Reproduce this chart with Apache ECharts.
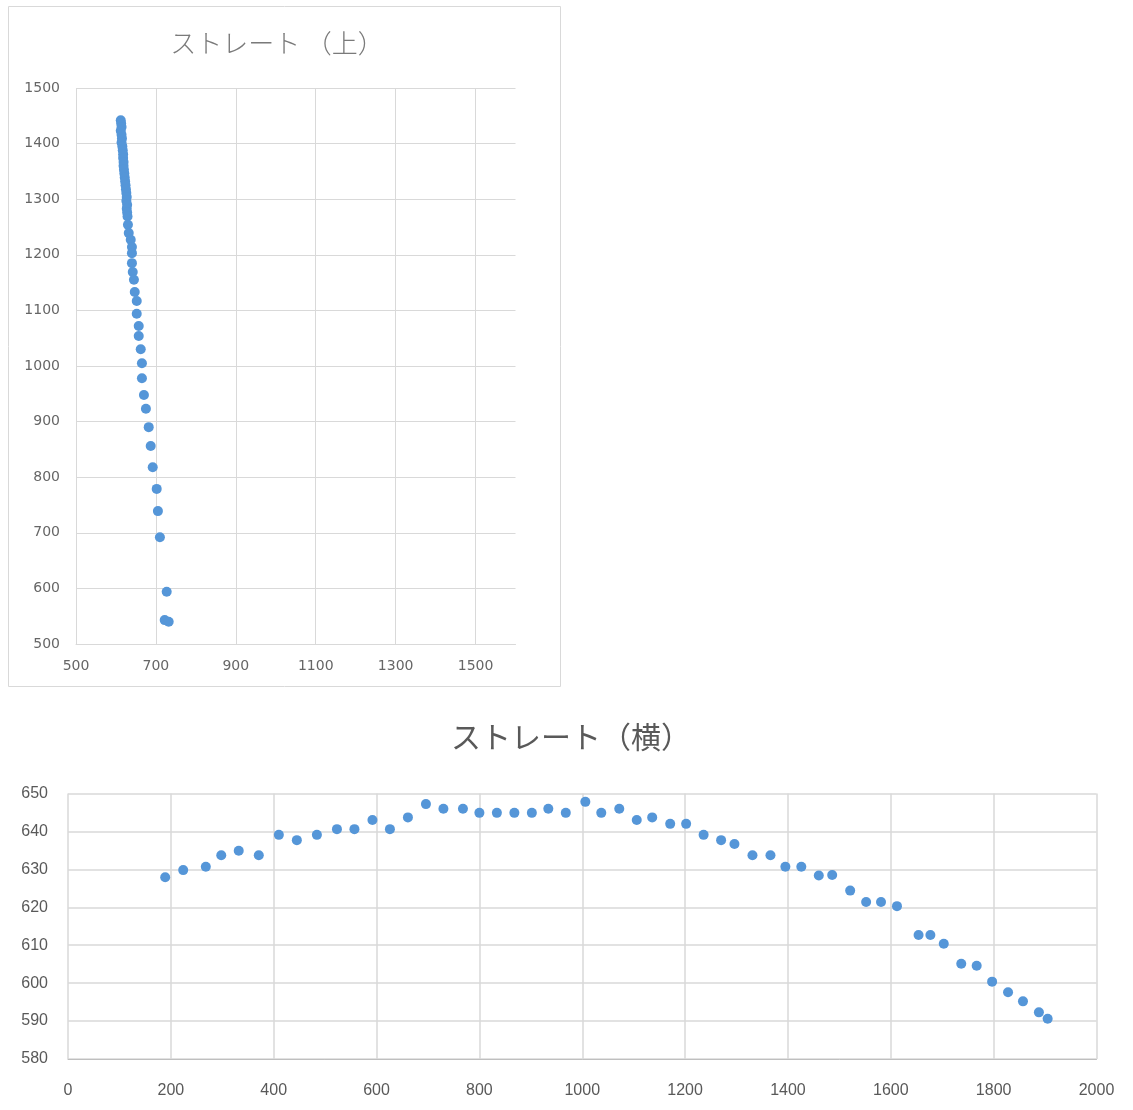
<!DOCTYPE html>
<html>
<head>
<meta charset="utf-8">
<script src="https://cdn.jsdelivr.net/npm/echarts@6/dist/echarts.min.js"></script>
<style>html,body{margin:0;padding:0;background:#fff}#c{width:1133px;height:1110px}</style>
</head>
<body>
<div id="c"></div>
<script>
// ストレート（上）
var topX = [612,613,614,612,614,615,614,616,617,618,618,619,619,620,621,622,623,624,625,626,627,626,628,627,628,629,
            630,632,637,640,640,640,642,645,647,652,652,657,657,662,665,665,670,675,682,687,692,702,705,710,727,722,732];
var topY = [1442,1436,1430,1423,1416,1409,1402,1395,1388,1381,1374,1367,1360,1353,1346,1339,1332,1325,1318,1311,1304,1297,1290,1283,1276,1269,
            1254,1239,1227,1214,1203,1185,1169,1155,1133,1117,1094,1072,1054,1030,1005,978,948,923,890,856,818,779,739,692,594,543,540];
var topXTicks = [500,700,900,1100,1300,1500];

// ストレート（横）
var sideX = [189,224,268,298,332,371,410,445,484,523,557,592,626,661,696,730,768,800,834,868,902,934,968,1006,1037,1072,1106,1136,1171,1202,1236,1270,1296,1331,1366,1395,1426,1460,1486,1521,1552,1581,1612,1654,1677,1703,1737,1767,1797,1828,1857,1888,1905];
var sideY = [627.9,629.8,630.7,633.7,634.9,633.7,639.1,637.7,639.1,640.6,640.6,643.0,640.6,643.7,647.2,646.0,646.0,644.9,644.9,644.9,644.9,646.0,644.9,647.8,644.9,646.0,643.0,643.7,642.0,642.0,639.1,637.7,636.7,633.7,633.7,630.7,630.7,628.4,628.5,624.4,621.4,621.4,620.3,612.7,612.7,610.4,605.1,604.6,600.4,597.6,595.2,592.3,590.6];

function zip(a, b) { return a.map(function (v, i) { return [v, b[i]]; }); }
function plain(v) { return String(v); }

var dotColor = '#5596d8';
var gridColor = '#d9d9d9';
var textColor = '#595959';

var chart = echarts.init(document.getElementById('c'), null, {renderer: 'canvas'});
chart.setOption({
  animation: false,
  title: [
    {text: 'ストレート （上）', left: 272, top: 25, textAlign: 'center',
     textStyle: {fontFamily: 'Noto Sans CJK JP', fontSize: 26, fontWeight: 300, color: '#7a7a7a'}},
    {text: 'ストレート（横）', left: 566, top: 717, textAlign: 'center',
     textStyle: {fontFamily: 'Noto Sans CJK JP', fontSize: 30, fontWeight: 'normal', color: textColor}}
  ],
  graphic: [{
    type: 'rect', shape: {x: 8.5, y: 6.5, width: 552, height: 680},
    style: {fill: 'none', stroke: gridColor, lineWidth: 1}, silent: true
  }],
  grid: [
    {left: 76, top: 88, width: 439.5, height: 556},
    {left: 68, top: 793.5, width: 1028.5, height: 265.5}
  ],
  xAxis: [
    {type: 'value', gridIndex: 0, min: 500, max: 1600,
     axisLine: {show: true, lineStyle: {color: gridColor}},
     axisTick: {show: false, customValues: topXTicks},
     axisLabel: {customValues: topXTicks, formatter: plain, color: '#666', fontFamily: 'DejaVu Sans', fontSize: 14, margin: 15},
     splitLine: {show: true, lineStyle: {color: gridColor, width: 1}}},
    {type: 'value', gridIndex: 1, min: 0, max: 2000, interval: 200,
     axisLine: {show: true, lineStyle: {color: '#bfbfbf'}},
     axisTick: {show: false},
     axisLabel: {formatter: plain, color: textColor, fontFamily: 'Liberation Sans', fontSize: 16, margin: 24},
     splitLine: {show: true, lineStyle: {color: gridColor, width: 1.5}}}
  ],
  yAxis: [
    {type: 'value', gridIndex: 0, min: 500, max: 1500, interval: 100,
     axisLine: {show: false}, axisTick: {show: false},
     axisLabel: {formatter: plain, color: '#666', fontFamily: 'DejaVu Sans', fontSize: 14, margin: 16},
     splitLine: {show: true, lineStyle: {color: gridColor, width: 1}}},
    {type: 'value', gridIndex: 1, min: 580, max: 650, interval: 10,
     axisLine: {show: false}, axisTick: {show: false},
     axisLabel: {formatter: plain, color: textColor, fontFamily: 'Liberation Sans', fontSize: 16, margin: 20},
     splitLine: {show: true, lineStyle: {color: gridColor, width: 1.5}}}
  ],
  series: [
    {type: 'scatter', xAxisIndex: 0, yAxisIndex: 0, data: zip(topX, topY),
     symbolSize: 10, itemStyle: {color: dotColor, opacity: 1}},
    {type: 'scatter', xAxisIndex: 1, yAxisIndex: 1, data: zip(sideX, sideY),
     symbolSize: 10, itemStyle: {color: dotColor, opacity: 1}}
  ]
});
</script>
</body>
</html>
